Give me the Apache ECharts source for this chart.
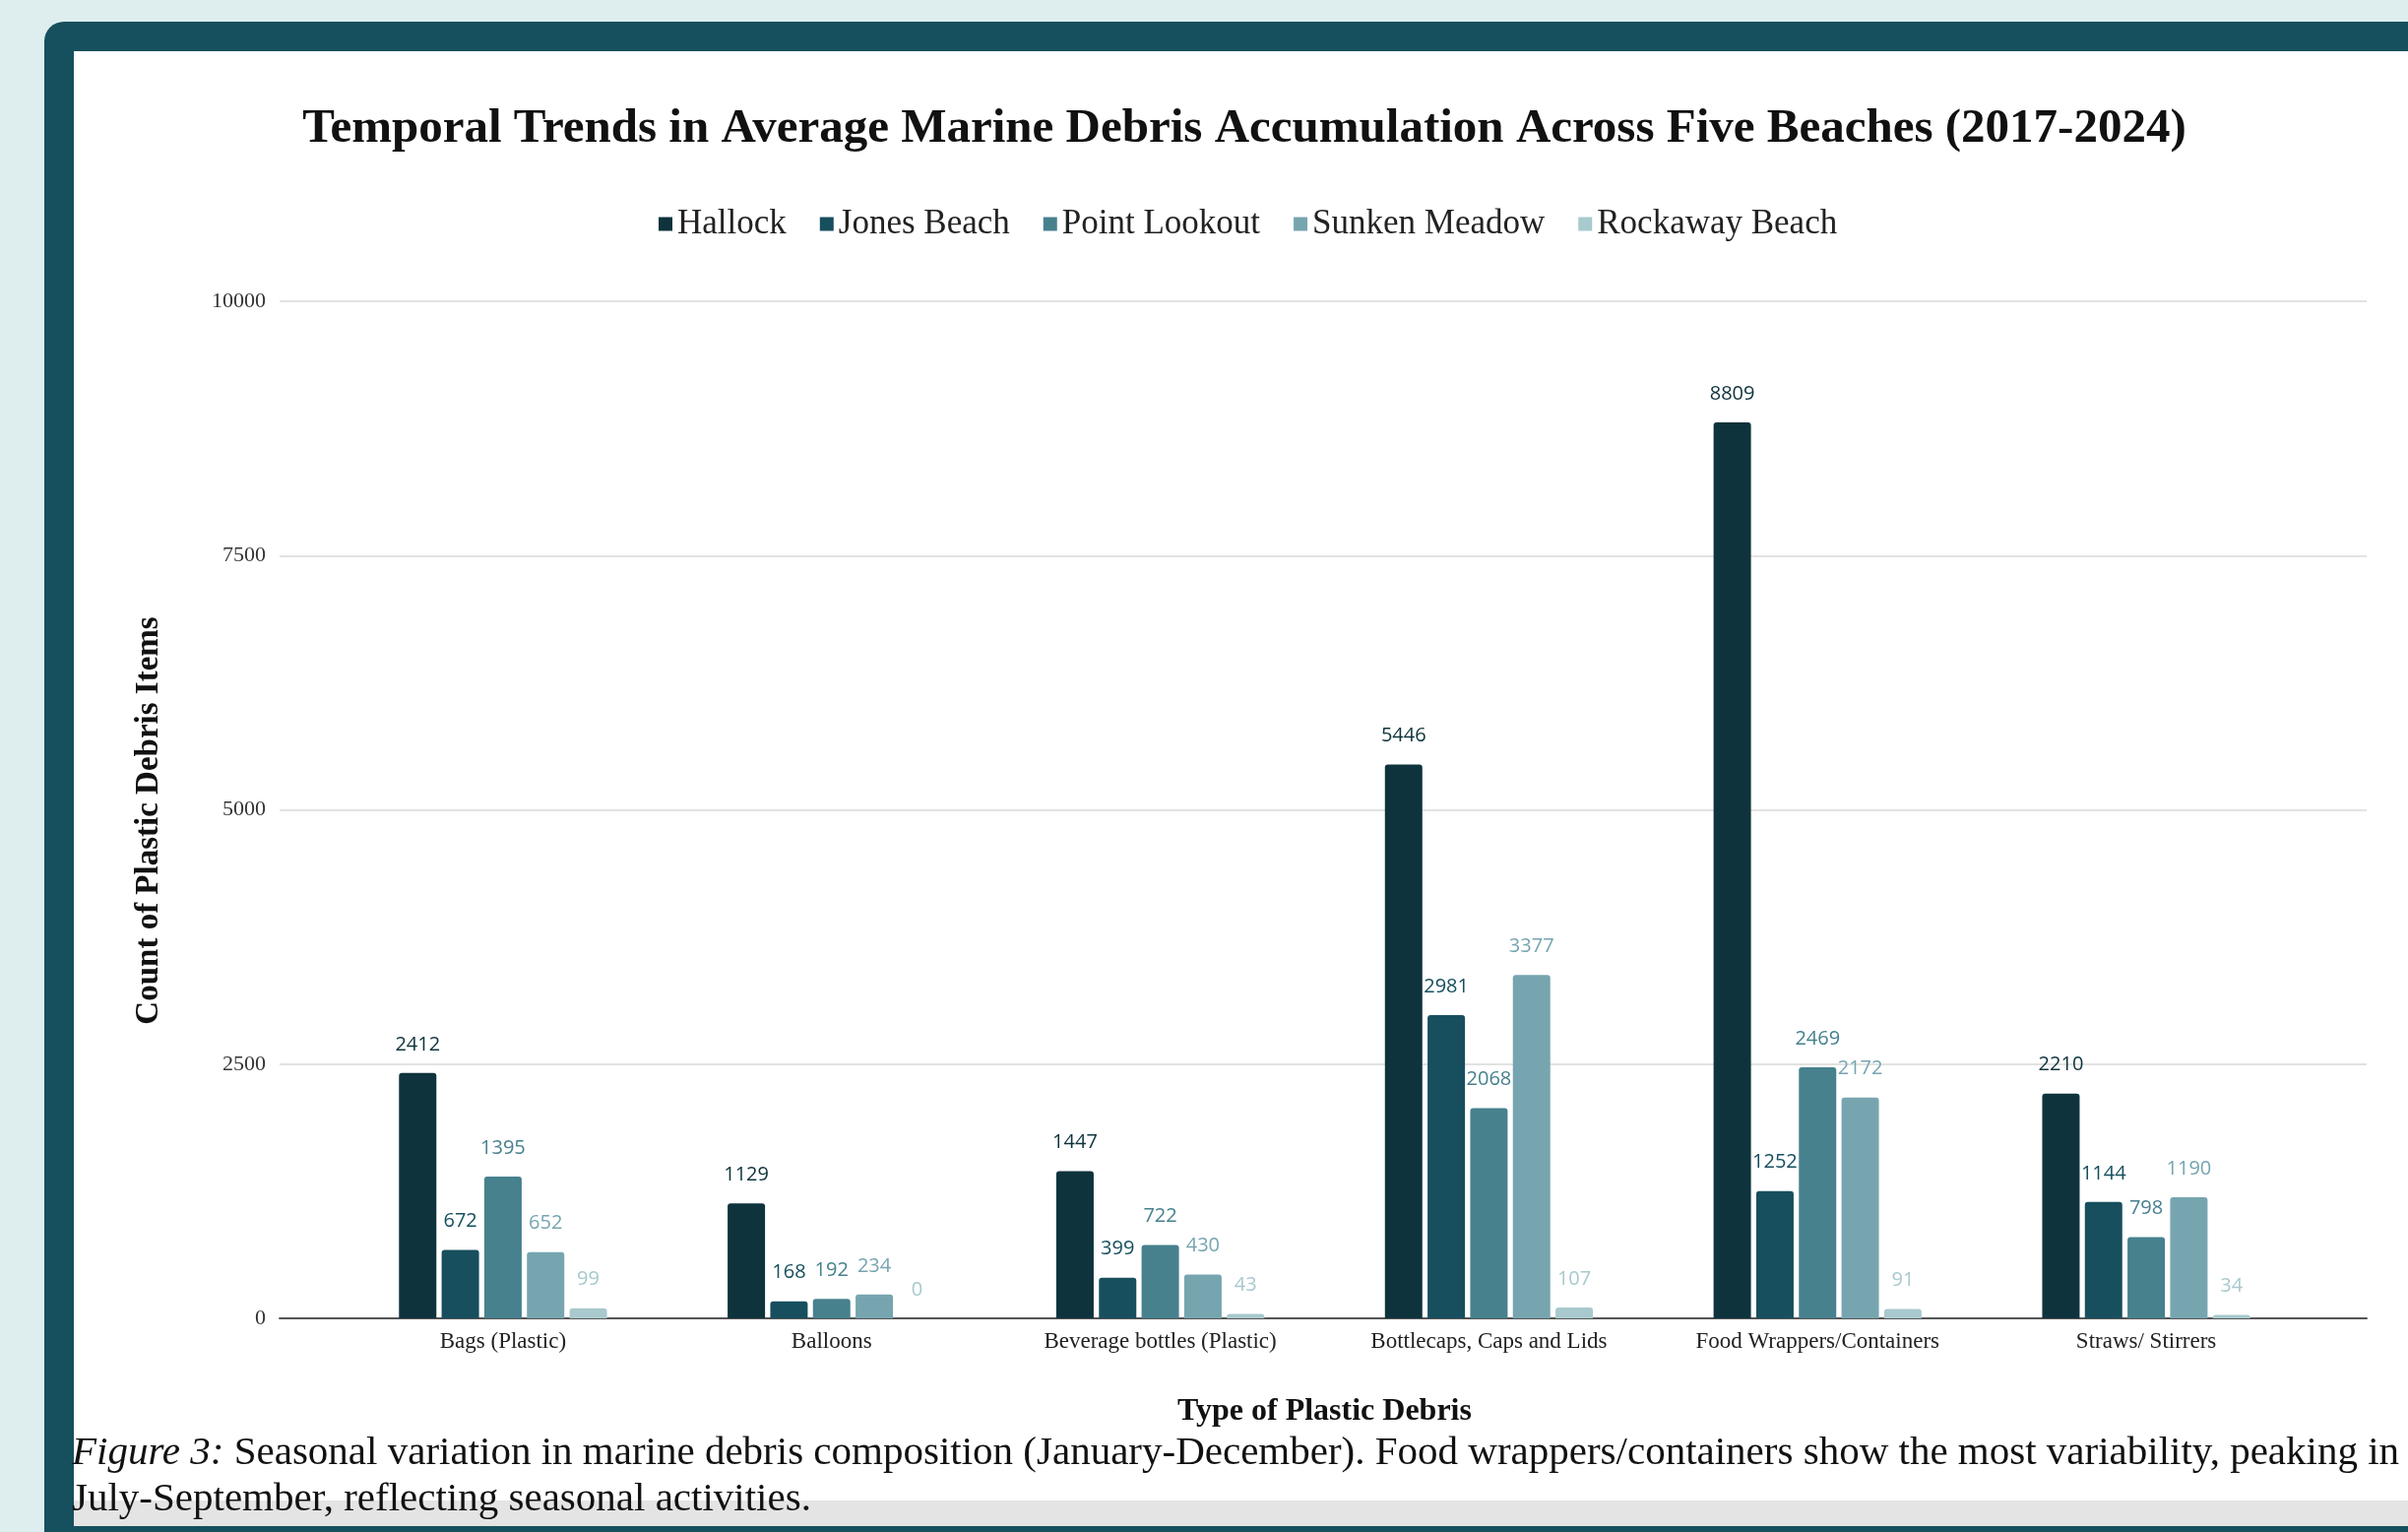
<!DOCTYPE html>
<html>
<head>
    <meta charset="utf-8">
    <title>Marine Debris</title>
    <script src="https://cdn.jsdelivr.net/npm/echarts@6/dist/echarts.min.js"></script>
    <style>
        body { margin: 0; background: #deeeef; overflow: hidden; }
        .frame { position: absolute; left: 45px; top: 22px; width: 2420px; height: 1560px; background: #164f5d; border-top-left-radius: 20px; }
        .paper { position: absolute; left: 75px; top: 52px; width: 2371px; height: 1472px; background: #ffffff; }
        .band { position: absolute; left: 75px; top: 1524px; width: 2371px; height: 26px; background: #e4e4e4; }
        #main { position: absolute; left: 0; top: 0; width: 2446px; height: 1556px; }
    </style>
</head>
<body>
<div class="frame"></div>
<div class="paper"></div>
<div class="band"></div>
<div id="main"></div>

<script type="text/javascript">
    // debris types on the x axis
    var categories = ['Bags (Plastic)', 'Balloons', 'Beverage bottles (Plastic)',
        'Bottlecaps, Caps and Lids', 'Food Wrappers/Containers', 'Straws/ Stirrers'];
    // counts per beach
    var hallock = [2412, 1129, 1447, 5446, 8809, 2210];
    var jonesBeach = [672, 168, 399, 2981, 1252, 1144];
    var pointLookout = [1395, 192, 722, 2068, 2469, 798];
    var sunkenMeadow = [652, 234, 430, 3377, 2172, 1190];
    var rockawayBeach = [99, 0, 43, 107, 91, 34];

    var beachNames = ['Hallock', 'Jones Beach', 'Point Lookout', 'Sunken Meadow', 'Rockaway Beach'];
    var beachData = [hallock, jonesBeach, pointLookout, sunkenMeadow, rockawayBeach];
    var colors = ['#0e333c', '#174f5e', '#47818e', '#76a5b0', '#a8c9ce'];

    var serif = '"Liberation Serif", "DejaVu Serif", serif';

    var series = beachData.map(function (d, i) {
        return {
            name: beachNames[i],
            type: 'bar',
            xAxisIndex: 1,
            yAxisIndex: 1,
            data: d,
            barWidth: 38,
            barGap: '14%',
            itemStyle: { color: colors[i], borderRadius: [3, 3, 0, 0] },
            label: {
                show: true,
                position: 'top',
                distance: 19,
                color: colors[i],
                fontFamily: '"Open Sans", sans-serif',
                fontSize: 20
            }
        };
    });

    var myChart = echarts.init(document.getElementById('main'));
    myChart.setOption({
        animation: false,
        color: colors,
        title: {
            text: 'Temporal Trends in Average Marine Debris Accumulation Across Five Beaches (2017-2024)',
            left: 1259,
            top: 102,
            textAlign: 'center',
            textStyle: { fontFamily: serif, fontSize: 49, fontWeight: 'bold', color: '#111' }
        },
        legend: {
            data: beachNames,
            left: 664,
            top: 205,
            icon: 'rect',
            itemWidth: 14,
            itemHeight: 14,
            itemGap: 34,
            textStyle: { fontFamily: serif, fontSize: 35, color: '#222' }
        },
        grid: [
            { left: 284, right: 42, top: 306, bottom: 217 },
            { left: 344, right: 99, top: 306, bottom: 217 }
        ],
        xAxis: [
            {
                type: 'value', gridIndex: 0, min: 0, max: 1,
                axisLine: { show: true, onZero: true, lineStyle: { color: '#555', width: 2 } },
                axisTick: { show: false }, axisLabel: { show: false }, splitLine: { show: false }
            },
            {
                type: 'category', gridIndex: 1, data: categories,
                axisLine: { show: false }, axisTick: { show: false },
                axisLabel: { margin: 12, fontFamily: serif, fontSize: 23, color: '#222' },
                name: 'Type of Plastic Debris',
                nameLocation: 'middle',
                nameGap: 79,
                nameTextStyle: { fontFamily: serif, fontSize: 32, fontWeight: 'bold', color: '#111' }
            }
        ],
        yAxis: [
            {
                type: 'value', gridIndex: 0, min: 0, max: 10000, interval: 2500,
                axisLine: { show: false }, axisTick: { show: false },
                axisLabel: {
                    margin: 14, fontFamily: serif, fontSize: 22, color: '#333',
                    formatter: function (v) { return String(v); }
                },
                splitLine: { lineStyle: { color: '#d9d9d9', width: 1.5 } },
                name: 'Count of Plastic Debris Items',
                nameLocation: 'middle',
                nameGap: 116,
                nameTextStyle: { fontFamily: serif, fontSize: 33, fontWeight: 'bold', color: '#111', padding: [0, 22, 0, 0] }
            },
            {
                type: 'value', gridIndex: 1, min: 0, max: 10000, interval: 2500,
                show: false, splitLine: { show: false }
            }
        ],
        graphic: [
            {
                type: 'text',
                left: 73,
                top: 1453,
                z: 100,
                style: {
                    text: '{i|Figure 3:} Seasonal variation in marine debris composition (January-December). Food wrappers/containers show the most variability, peaking in\nJuly-September, reflecting seasonal activities.',
                    fontFamily: serif,
                    fontSize: 41,
                    lineHeight: 47,
                    fill: '#111',
                    rich: {
                        i: { fontFamily: serif, fontSize: 41, fontStyle: 'italic', lineHeight: 47, fill: '#111' }
                    }
                }
            }
        ],
        series: series
    });
</script>
</body>
</html>
